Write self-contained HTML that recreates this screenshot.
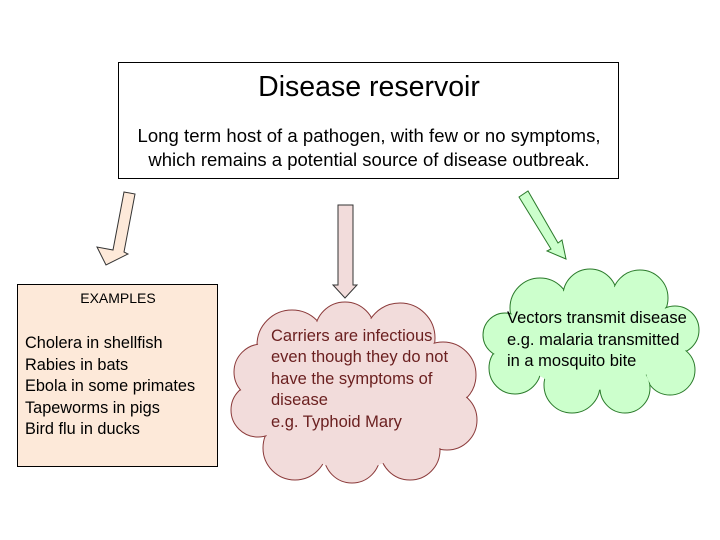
<!DOCTYPE html>
<html><head><meta charset="utf-8"><style>
body{margin:0;width:720px;height:540px;background:#fff;overflow:hidden;font-family:"Liberation Sans",sans-serif}
</style></head><body>
<svg width="720" height="540" xmlns="http://www.w3.org/2000/svg" style="position:absolute;left:0;top:0">
<rect x="118.5" y="62.5" width="500" height="116" fill="#fff" stroke="#000" stroke-width="1"/>
<text x="369" y="96" font-size="28.5" text-anchor="middle" fill="#000" font-family="Liberation Sans,sans-serif">Disease reservoir</text>
<text x="369" y="142" font-size="18.5" text-anchor="middle" fill="#000" font-family="Liberation Sans,sans-serif" textLength="463">Long term host of a pathogen, with few or no symptoms,</text>
<text x="369" y="166" font-size="18.5" text-anchor="middle" fill="#000" font-family="Liberation Sans,sans-serif">which remains a potential source of disease outbreak.</text>

<polygon points="124,192 135,194 124,252 128,254 106,265 97,247 113,250" fill="#fde9d9" stroke="#333" stroke-width="1"/>
<polygon points="338,205 353,205 353,285 357,285 345,298 333,285 338,285" fill="#f2dcdb" stroke="#333" stroke-width="1"/>
<polygon points="519,197 528,191 558,243 562,240 566,259 547,251 551,249" fill="#ccffcc" stroke="#2a7a2a" stroke-width="1"/>

<rect x="17.5" y="284.5" width="200" height="182" fill="#fde9d9" stroke="#000" stroke-width="1"/>
<g font-family="Liberation Sans,sans-serif" font-size="16.3" fill="#000">
<text x="118" y="303" text-anchor="middle" font-size="14">EXAMPLES</text>
<text x="25" y="348">Cholera in shellfish</text>
<text x="25" y="370">Rabies in bats</text>
<text x="25" y="391">Ebola in some primates</text>
<text x="25" y="413">Tapeworms in pigs</text>
<text x="25" y="434">Bird flu in ducks</text>
</g>

<g stroke="#8b3a3a" stroke-width="1" fill="#f2dcdb">
<circle cx="292" cy="345" r="35"/><circle cx="345" cy="332" r="30"/><circle cx="400" cy="338" r="35"/>
<circle cx="443" cy="375" r="33"/><circle cx="447" cy="420" r="30"/><circle cx="410" cy="450" r="30"/>
<circle cx="352" cy="455" r="28"/><circle cx="295" cy="448" r="32"/><circle cx="258" cy="410" r="27"/><circle cx="262" cy="372" r="28"/>
</g>
<g fill="#f2dcdb">
<circle cx="292" cy="345" r="34"/><circle cx="345" cy="332" r="29"/><circle cx="400" cy="338" r="34"/>
<circle cx="443" cy="375" r="32"/><circle cx="447" cy="420" r="29"/><circle cx="410" cy="450" r="29"/>
<circle cx="352" cy="455" r="27"/><circle cx="295" cy="448" r="31"/><circle cx="258" cy="410" r="26"/><circle cx="262" cy="372" r="27"/>
<circle cx="352" cy="395" r="75"/>
</g>
<g font-family="Liberation Sans,sans-serif" font-size="16.5" fill="#6b2020">
<text x="271" y="341">Carriers are infectious</text>
<text x="271" y="362">even though they do not</text>
<text x="271" y="384">have the symptoms of</text>
<text x="271" y="405">disease</text>
<text x="271" y="427">e.g. Typhoid Mary</text>
</g>

<g stroke="#2a7a2a" stroke-width="1" fill="#ccffcc">
<circle cx="540" cy="308" r="30"/><circle cx="590" cy="296" r="27"/><circle cx="640" cy="298" r="28"/>
<circle cx="675" cy="330" r="24"/><circle cx="670" cy="370" r="25"/><circle cx="625" cy="388" r="25"/>
<circle cx="572" cy="385" r="28"/><circle cx="515" cy="368" r="26"/><circle cx="505" cy="335" r="22"/>
</g>
<g fill="#ccffcc">
<circle cx="540" cy="308" r="29"/><circle cx="590" cy="296" r="26"/><circle cx="640" cy="298" r="27"/>
<circle cx="675" cy="330" r="23"/><circle cx="670" cy="370" r="24"/><circle cx="625" cy="388" r="24"/>
<circle cx="572" cy="385" r="27"/><circle cx="515" cy="368" r="25"/><circle cx="505" cy="335" r="21"/>
<ellipse cx="592" cy="340" rx="75" ry="50"/>
</g>
<g font-family="Liberation Sans,sans-serif" font-size="16.5" fill="#000">
<text x="507" y="323">Vectors transmit disease</text>
<text x="507" y="345">e.g. malaria transmitted</text>
<text x="507" y="366">in a mosquito bite</text>
</g>
</svg>
</body></html>
